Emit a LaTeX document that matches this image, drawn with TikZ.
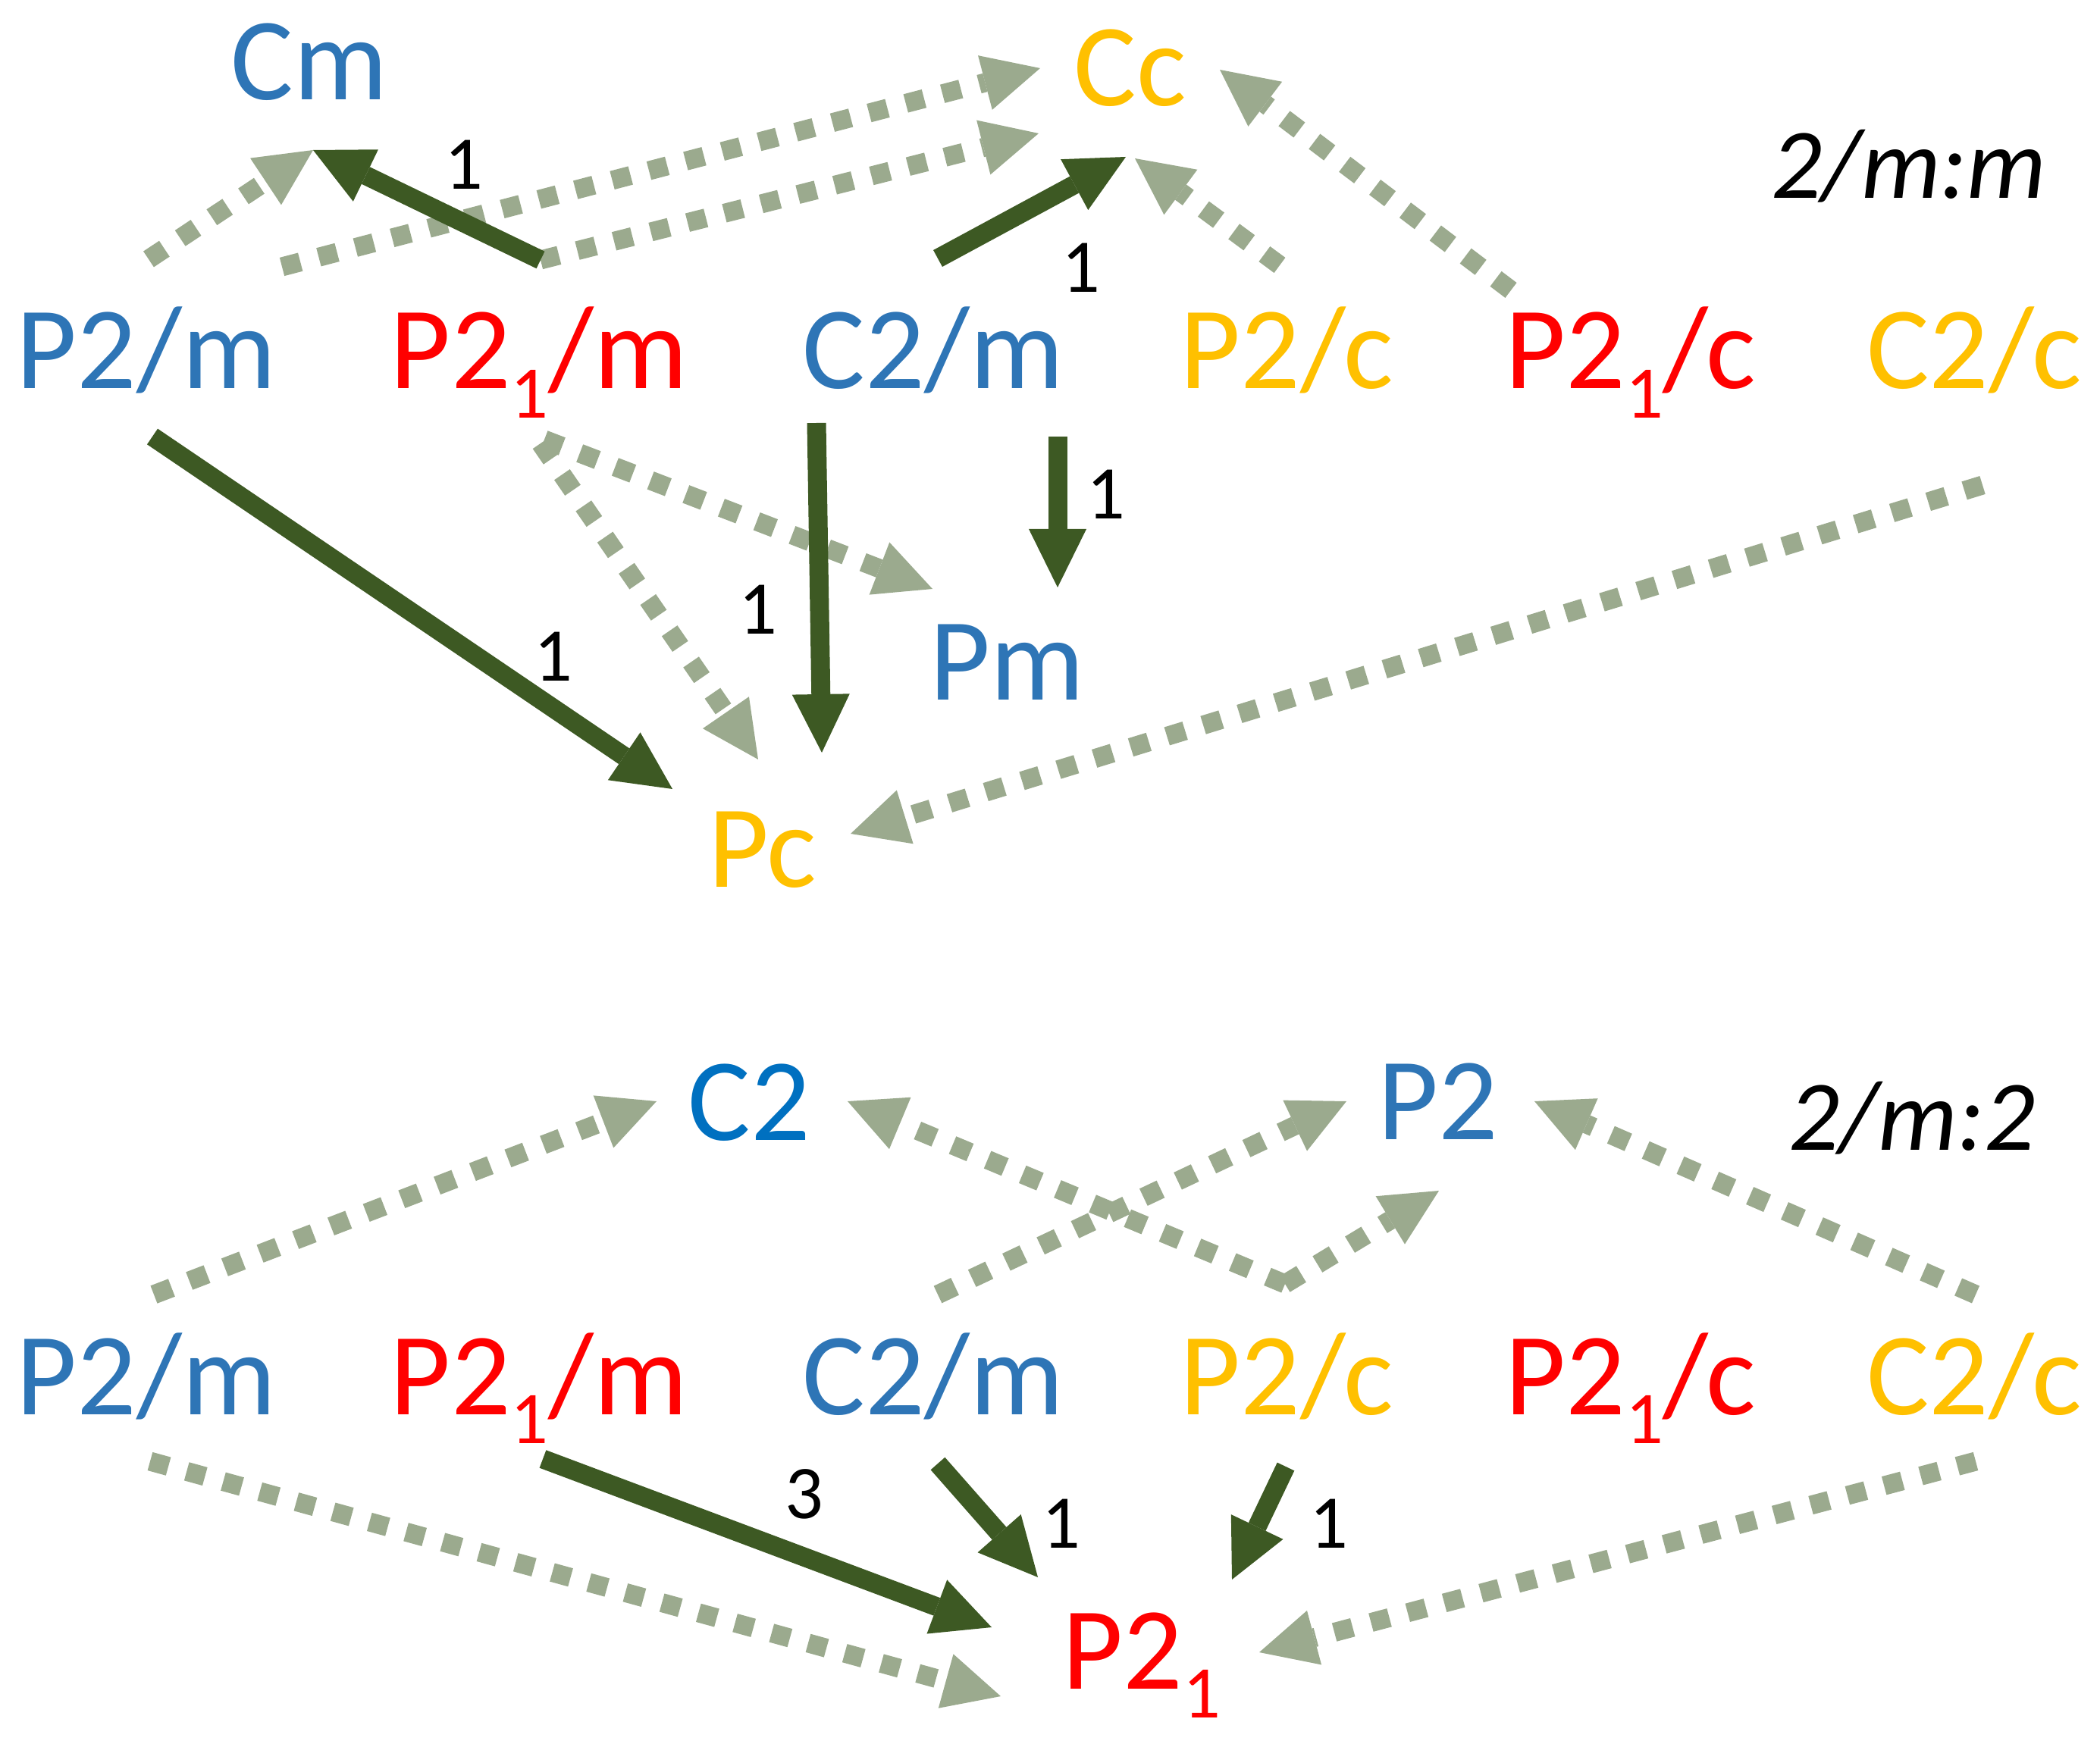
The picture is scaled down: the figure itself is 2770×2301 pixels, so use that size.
\documentclass[tikz,border=0pt]{standalone}
\usepackage{fontspec}
\setmainfont{Carlito}
\usetikzlibrary{arrows.meta}
\definecolor{sgreen}{RGB}{61,89,35}
\definecolor{lgreen}{RGB}{155,170,142}
\definecolor{gblue}{RGB}{46,117,182}
\definecolor{cblue}{RGB}{0,112,192}
\definecolor{gyellow}{RGB}{255,192,0}
\definecolor{gred}{RGB}{255,0,0}
\newcommand{\sgsub}[1]{\raisebox{-0.38cm}{\fontsize{0.98cm}{1cm}\selectfont #1}}
\tikzset{
  grp/.style={anchor=base, inner sep=0pt, font=\fontsize{1.55cm}{1.8cm}\selectfont},
  idx/.style={anchor=center, inner sep=0pt, font=\fontsize{1.0cm}{1.2cm}\selectfont},
  ttl/.style={anchor=base, inner sep=0pt, font=\fontsize{1.32cm}{1.6cm}\selectfont\itshape},
  solidarr/.style={draw=sgreen, line width=0.25cm, -{Triangle[length=0.77cm,width=0.76cm,line width=0pt]}},
  dotarr/.style={draw=lgreen, line width=0.25cm, dash pattern=on 0.25cm off 0.25cm, -{Triangle[length=0.75cm,width=0.74cm,line width=0pt]}}
}
\begin{document}
\begin{tikzpicture}[x=0.01cm,y=-0.01cm]
\useasboundingbox (0,0) rectangle (2770,2301);
% ---------- top part: 2/m:m ----------
\node[grp, text=gblue] (cm) at (408,132) {Cm};
\node[grp, text=gyellow] (cc) at (1491,140) {Cc};
\node[ttl] (t1) at (2518,262) {2/m:m};
\node[grp, text=gblue] (p2m) at (193,513) {P2/m};
\node[grp, text=gred] (p21m) at (711,513) {P2\sgsub{1}/m};
\node[grp, text=gblue] (c2m) at (1231,513) {C2/m};
\node[grp, text=gyellow] (p2c) at (1697,513) {P2/c};
\node[grp, text=gred] (p21c) at (2151,513) {P2\sgsub{1}/c};
\node[grp, text=gyellow] (c2c) at (2604,513) {C2/c};
\node[grp, text=gblue] (pm) at (1328,923) {Pm};
\node[grp, text=gyellow] (pc) at (1006,1170) {Pc};
% connector ends (top)
\coordinate (p2mA) at (196,342);
\coordinate (p2mB) at (372,352);
\coordinate (p2mC) at (201,576);
\coordinate (p21mA) at (713,343);
\coordinate (p21mB) at (713,585);
\coordinate (p21mC) at (718,580);
\coordinate (c2mA) at (1237,341);
\coordinate (c2mB) at (1077,558);
\coordinate (c2mC) at (1395,576);
\coordinate (p2cA) at (1688,350);
\coordinate (p21cA) at (1993,383);
\coordinate (c2cA) at (2615,640);
\coordinate (cmT) at (413,198);
\coordinate (ccA) at (1372,90);
\coordinate (ccB) at (1370,176);
\coordinate (ccC) at (1485,207);
\coordinate (ccD) at (1497,209);
\coordinate (ccE) at (1609,92);
\coordinate (pcA) at (887,1041);
\coordinate (pcB) at (1000,1002);
\coordinate (pcC) at (1084,993);
\coordinate (pcD) at (1122,1100);
\coordinate (pmA) at (1230,777);
\coordinate (pmB) at (1395,775);
% dotted (top)
\draw[dotarr] (p2mA) -- (cmT);
\draw[dotarr] (p2mB) -- (ccA);
\draw[dotarr] (p21mA) -- (ccB);
\draw[dotarr] (p2cA) -- (ccD);
\draw[dotarr] (p21cA) -- (ccE);
\draw[dotarr] (p21mC) -- (pmA);
\draw[dotarr] (p21mB) -- (pcB);
\draw[dotarr] (c2cA) -- (pcD);
% solid (top)
\draw[solidarr] (p21mA) -- (cmT);
\draw[solidarr] (c2mA) -- (ccC);
\draw[solidarr] (p2mC) -- (pcA);
\draw[solidarr] (c2mB) -- (pcC);
\draw[solidarr] (c2mC) -- (pmB);
\node[idx] (n1) at (612,217) {1};
\node[idx] (n2) at (1426,353) {1};
\node[idx] (n3) at (730,866) {1};
\node[idx] (n4) at (1000,804) {1};
\node[idx] (n5) at (1459,652) {1};
% ---------- bottom part: 2/m:2 ----------
\node[grp, text=cblue] (c2) at (988,1504) {C2};
\node[grp, text=gblue] (p2) at (1897,1503) {P2};
\node[ttl] (t2) at (2522,1517) {2/m:2};
\node[grp, text=gblue] (bp2m) at (193,1866) {P2/m};
\node[grp, text=gred] (bp21m) at (711,1866) {P2\sgsub{1}/m};
\node[grp, text=gblue] (bc2m) at (1231,1866) {C2/m};
\node[grp, text=gyellow] (bp2c) at (1697,1866) {P2/c};
\node[grp, text=gred] (bp21c) at (2151,1866) {P2\sgsub{1}/c};
\node[grp, text=gyellow] (bc2c) at (2604,1866) {C2/c};
\node[grp, text=gred] (p21) at (1506,2228) {P2\sgsub{1}};
% connector ends (bottom)
\coordinate (bp2mA) at (203,1708);
\coordinate (bp2mB) at (198,1928);
\coordinate (bp21mA) at (716,1925);
\coordinate (bc2mA) at (1237,1708);
\coordinate (bc2mB) at (1237,1931);
\coordinate (bp2cA) at (1695,1694);
\coordinate (bp2cB) at (1696,1935);
\coordinate (bc2cA) at (2606,1708);
\coordinate (bc2cB) at (2606,1928);
\coordinate (c2A) at (866,1453);
\coordinate (c2B) at (1118,1453);
\coordinate (p2A) at (1776,1453);
\coordinate (p2B) at (1898,1571);
\coordinate (p2C) at (2024,1453);
\coordinate (p21A) at (1320,2238);
\coordinate (p21B) at (1661,2180);
\coordinate (p21C) at (1308,2147);
\coordinate (p21D) at (1369,2081);
\coordinate (p21E) at (1625,2084);
% dotted (bottom)
\draw[dotarr] (bp2mA) -- (c2A);
\draw[dotarr] (bc2mA) -- (p2A);
\draw[dotarr] (bp2cA) -- (c2B);
\draw[dotarr] (bp2cA) -- (p2B);
\draw[dotarr] (bc2cA) -- (p2C);
\draw[dotarr] (bp2mB) -- (p21A);
\draw[dotarr] (bc2cB) -- (p21B);
% solid (bottom)
\draw[solidarr] (bp21mA) -- (p21C);
\draw[solidarr] (bc2mB) -- (p21D);
\draw[solidarr] (bp2cB) -- (p21E);
\node[idx] (n6) at (1061,1971) {3};
\node[idx] (n7) at (1400,2010) {1};
\node[idx] (n8) at (1753,2010) {1};
\end{tikzpicture}
\end{document}
